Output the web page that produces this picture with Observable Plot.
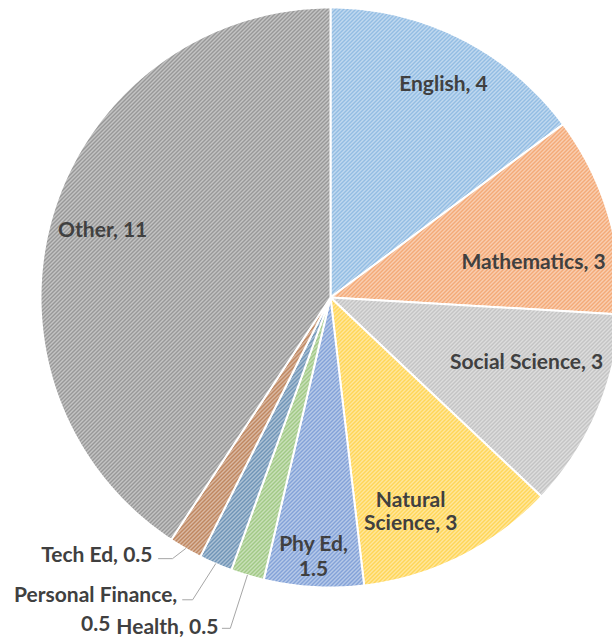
<!DOCTYPE html>
<html>
<head>
<meta charset="utf-8">
<script src="https://cdn.jsdelivr.net/npm/d3@7"></script>
<script src="https://cdn.jsdelivr.net/npm/@observablehq/plot@0.6"></script>
<style>
  html, body { margin: 0; padding: 0; background: #fff; }
  #chart svg { display: block; }
</style>
</head>
<body>
<div id="chart"></div>
<script>
// ---- Data ----
const categories = ["English", "Mathematics", "Social Science", "Natural Science", "Phy Ed", "Health", "Personal Finance", "Tech Ed", "Other"];
const values = [4, 3, 3, 3, 1.5, 0.5, 0.5, 0.5, 11];
const labelTexts = ["English, 4", "Mathematics, 3", "Social Science, 3", "Natural\nScience, 3", "Phy Ed,\n1.5", "Health, 0.5", "Personal Finance,\n0.5", "Tech Ed, 0.5", "Other, 11"];
const colors = ["#5B9BD5", "#ED7D31", "#A5A5A5", "#FFC000", "#4472C4", "#70AD47", "#255E91", "#9E480E", "#636363"];

// ---- Layout (styling only) ----
const W = 612, H = 637, CX = 330, CY = 297, R = 290;
// inside label: radius factor + pixel nudge; outside label: offsets from slice edge point (pixels)
const labelLayout = [
  {type: "in", r: 0.845, dx: 3, dy: 2, lh: 1.5},
  {type: "in", r: 0.72, dx: 3, dy: 21, lh: 1.5},
  {type: "in", r: 0.71, dx: 7, dy: -20, lh: 1.5},
  {type: "in", r: 0.785, dx: -22, dy: 10, lh: 1.1},
  {type: "in", r: 0.89, dx: -2, dy: 0, lh: 1.2},
  {type: "out", anchor: "end", tx: -29, ty: 51, lh: 1.2, leader: [[-17, 53], [-25, 53]]},
  {type: "out", anchor: "middle", tx: -120, ty: 43, lh: 1.4, leader: [[-23, 36], [-33, 36]]},
  {type: "out", anchor: "end", tx: -33, ty: 5, lh: 1.2, leader: [[-13, 10], [-27, 10]]},
  {type: "in", r: 0.82, dx: 0, dy: 0, lh: 1.2}
];

const pie = d3.pie().sort(null).value(d => d)(values);
const px = u => u / R; // pixel -> chart units

const marks = [];
pie.forEach((s, i) => {
  const pts = [[0, 0]];
  const n = Math.max(4, Math.ceil((s.endAngle - s.startAngle) / (Math.PI / 360)));
  for (let k = 0; k <= n; k++) {
    const a = s.startAngle + (s.endAngle - s.startAngle) * k / n;
    pts.push([Math.sin(a), Math.cos(a)]);
  }
  pts.push([0, 0]);
  marks.push(Plot.line(pts, {x: d => d[0], y: d => d[1], fill: `url(#pat${i})`, stroke: "#fff", strokeWidth: 2, strokeLinejoin: "round", curve: "linear", title: () => categories[i]}));
});

const textStyle = {fill: "#404040", fontSize: 21, fontWeight: "bold", fontFamily: "Lato, 'Noto Sans', sans-serif"};
pie.forEach((s, i) => {
  const L = labelLayout[i];
  const mid = (s.startAngle + s.endAngle) / 2;
  const ex = Math.sin(mid), ey = Math.cos(mid);
  if (L.type === "in") {
    const d = [{x: L.r * ex + px(L.dx), y: L.r * ey - px(L.dy), t: labelTexts[i]}];
    marks.push(Plot.text(d, {x: "x", y: "y", text: "t", textAnchor: "middle", lineHeight: L.lh, ...textStyle}));
  } else {
    const line = [[ex, ey], ...L.leader.map(([dx, dy]) => [ex + px(dx), ey - px(dy)])];
    marks.push(Plot.line(line, {x: d => d[0], y: d => d[1], stroke: "#A6A6A6", strokeWidth: 1, fill: "none"}));
    const d = [{x: ex + px(L.tx), y: ey - px(L.ty), t: labelTexts[i]}];
    marks.push(Plot.text(d, {x: "x", y: "y", text: "t", textAnchor: L.anchor, lineHeight: L.lh, ...textStyle}));
  }
});

const chart = Plot.plot({
  width: W,
  height: H,
  margin: 0,
  x: {domain: [-CX / R, (W - CX) / R], range: [0, W], axis: null},
  y: {domain: [-(H - CY) / R, CY / R], range: [H, 0], axis: null},
  style: {background: "#fff", overflow: "hidden"},
  marks
});

// hatch patterns (wide upward diagonal)
const defs = d3.select(chart).insert("defs", ":first-child");
colors.forEach((c, i) => {
  const p = defs.append("pattern").attr("id", `pat${i}`).attr("patternUnits", "userSpaceOnUse").attr("width", 4).attr("height", 4);
  p.append("rect").attr("width", 4).attr("height", 4).attr("fill", d3.interpolateRgb("#fff", c)(0.25));
  p.append("path").attr("d", "M-1,1L1,-1M0,4L4,0M3,5L5,3").attr("stroke", d3.interpolateRgb("#fff", c)(0.8)).attr("stroke-width", 1.4);
});

document.getElementById("chart").appendChild(chart);
</script>
</body>
</html>
